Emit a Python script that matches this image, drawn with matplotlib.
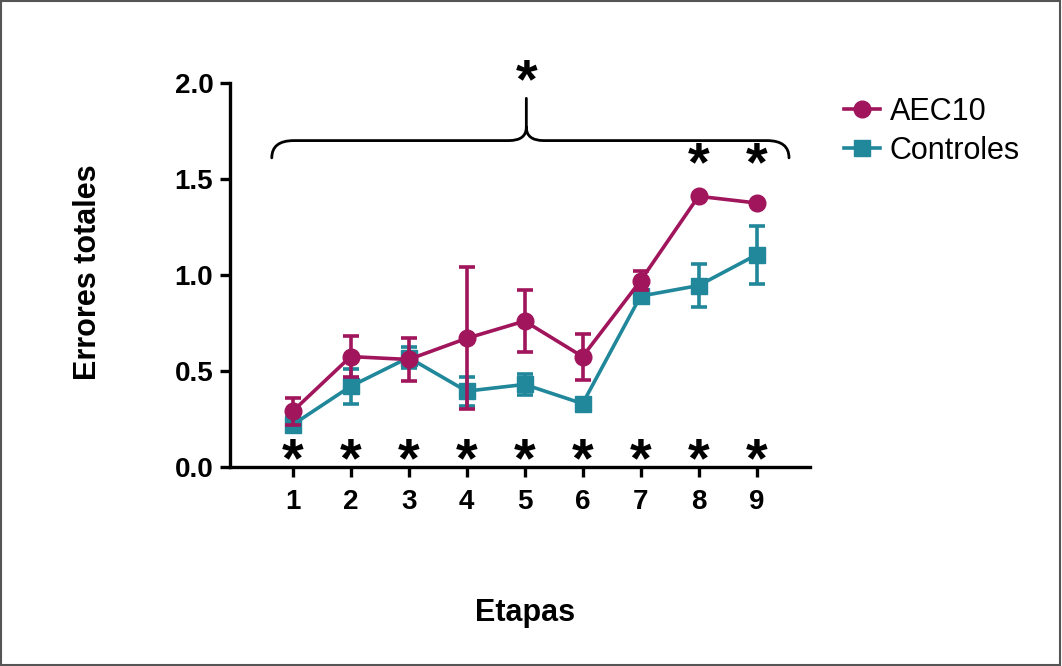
import matplotlib
matplotlib.use("Agg")
import matplotlib.pyplot as plt
from matplotlib.path import Path
from matplotlib.patches import PathPatch, Rectangle
from matplotlib.lines import Line2D

plt.rcParams['font.family'] = ['Liberation Sans', 'DejaVu Sans']

etapas = [1, 2, 3, 4, 5, 6, 7, 8, 9]
aec10 = [0.29, 0.575, 0.56, 0.67, 0.76, 0.575, 0.97, 1.41, 1.375]
aec10_err = [0.07, 0.105, 0.11, 0.37, 0.16, 0.12, 0.05, 0.0, 0.0]
controles = [0.22, 0.42, 0.57, 0.395, 0.43, 0.33, 0.89, 0.945, 1.105]
controles_err = [0.04, 0.09, 0.055, 0.075, 0.055, 0.02, 0.02, 0.11, 0.15]
star_low = [1, 2, 3, 4, 5, 6, 7, 8, 9]
star_high = [8, 9]

col_aec = '#A0155B'
col_ctl = '#21879A'

fig = plt.figure(figsize=(10.62, 6.66), dpi=100)
ax = fig.add_axes([0.2166, 0.2988, 0.546, 0.5766])

ax.errorbar(etapas, controles, yerr=controles_err, color=col_ctl, marker='s',
            markersize=11, lw=2.6, elinewidth=2.6, capsize=6, capthick=2.6,
            zorder=3)
ax.errorbar(etapas, aec10, yerr=aec10_err, color=col_aec, marker='o',
            markersize=12, lw=2.6, elinewidth=2.6, capsize=6, capthick=2.6,
            zorder=4)

# asterisks
for x in star_low:
    ax.text(x, -0.05, '*', ha='center', va='baseline', fontsize=40,
            fontweight='bold', zorder=5)
for x in star_high:
    ax.text(x, 1.494, '*', ha='center', va='baseline', fontsize=40,
            fontweight='bold')
ax.text(5.03, 1.924, '*', ha='center', va='baseline', fontsize=40,
        fontweight='bold', clip_on=False)

# curly bracket over all stages
x0, x1, xc = 0.64, 9.56, 5.03
yh, ye, yp = 1.70, 1.61, 1.92
r, rc, dc = 0.38, 0.30, 0.07
verts = [(x0, ye), (x0, yh), (x0 + r, yh), (xc - rc, yh), (xc, yh), (xc, yh + dc),
         (xc, yp), (xc, yh + dc), (xc, yh), (xc + rc, yh), (x1 - r, yh),
         (x1, yh), (x1, ye)]
codes = [Path.MOVETO, Path.CURVE3, Path.CURVE3, Path.LINETO, Path.CURVE3, Path.CURVE3,
         Path.LINETO, Path.MOVETO, Path.CURVE3, Path.CURVE3, Path.LINETO,
         Path.CURVE3, Path.CURVE3]
ax.add_patch(PathPatch(Path(verts, codes), fill=False, lw=2, color='black',
                       clip_on=False, capstyle='round'))

ax.set_xlim(-0.08, 9.92)
ax.set_ylim(0, 2.0)
ax.set_xticks(etapas)
ax.set_yticks([0, 0.5, 1.0, 1.5, 2.0])
ax.set_yticklabels(['0.0', '0.5', '1.0', '1.5', '2.0'])
for s in ['top', 'right']:
    ax.spines[s].set_visible(False)
for s in ['left', 'bottom']:
    ax.spines[s].set_linewidth(2.4)
ax.tick_params(axis='both', length=7, width=2.4, labelsize=20, pad=5)
ax.tick_params(axis='x', pad=9)
for lbl in ax.get_xticklabels() + ax.get_yticklabels():
    lbl.set_fontweight('bold')

fig.text(525 / 1062, 1 - 613 / 666, 'Etapas', ha='center', va='center',
         fontsize=22, fontweight='bold')
fig.text(88 / 1062, 1 - 272 / 666, 'Errores totales', ha='center', va='center',
         rotation=90, fontsize=22, fontweight='bold')

handles = [Line2D([], [], color=col_aec, marker='o', markersize=12, lw=2.6),
           Line2D([], [], color=col_ctl, marker='s', markersize=11, lw=2.6)]
fig.legend(handles, ['AEC10', 'Controles'], loc='upper left',
           bbox_to_anchor=(0.780, 0.878), frameon=False, fontsize=22,
           handlelength=1.2, handletextpad=0.3, labelspacing=0.3, borderpad=0)

fig.add_artist(Rectangle((0.001, 0.001), 0.997, 0.997, transform=fig.transFigure,
                         fill=False, lw=1.5, edgecolor='#555555'))

fig.savefig('out.png', dpi=100)
